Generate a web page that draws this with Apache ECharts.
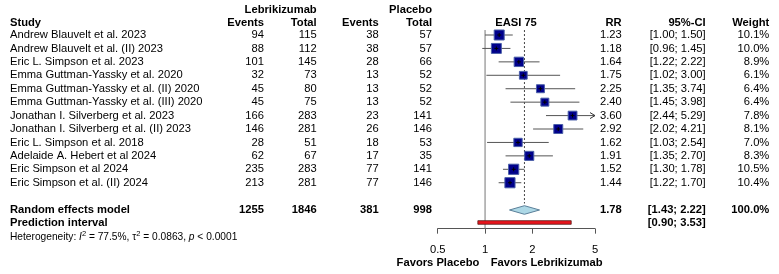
<!DOCTYPE html>
<html><head><meta charset="utf-8">
<script src="https://cdn.jsdelivr.net/npm/echarts@6/dist/echarts.min.js"></script>
<style>html,body{margin:0;padding:0;background:#fff}#c{width:779px;height:274px}</style>
</head><body><div id="c"></div>
<script>
// ---------- data ----------
const studies = [
  'Andrew Blauvelt et al. 2023',
  'Andrew Blauvelt et al. (II) 2023',
  'Eric L. Simpson et al. 2023',
  'Emma Guttman-Yassky et al. 2020',
  'Emma Guttman-Yassky et al. (II) 2020',
  'Emma Guttman-Yassky et al. (III) 2020',
  'Jonathan I. Silverberg et al. 2023',
  'Jonathan I. Silverberg et al. (II) 2023',
  'Eric L. Simpson et al. 2018',
  'Adelaide A. Hebert et al 2024',
  'Eric Simpson et al 2024',
  'Eric Simpson et al. (II) 2024'
];
const lebEvents = [94, 88, 101, 32, 45, 45, 166, 146, 28, 62, 235, 213];
const lebTotal  = [115, 112, 145, 73, 80, 75, 283, 281, 51, 67, 283, 281];
const plaEvents = [38, 38, 28, 13, 13, 13, 23, 26, 18, 17, 77, 77];
const plaTotal  = [57, 57, 66, 52, 52, 52, 141, 146, 53, 35, 141, 146];
const rr        = [1.23, 1.18, 1.64, 1.75, 2.25, 2.40, 3.60, 2.92, 1.62, 1.91, 1.52, 1.44];
const ciLow     = [1.00, 0.96, 1.22, 1.02, 1.35, 1.45, 2.44, 2.02, 1.03, 1.35, 1.30, 1.22];
const ciHigh    = [1.50, 1.45, 2.22, 3.00, 3.74, 3.98, 5.29, 4.21, 2.54, 2.70, 1.78, 1.70];
const weights   = [10.1, 10.0, 8.9, 6.1, 6.4, 6.4, 7.8, 8.1, 7.0, 8.3, 10.5, 10.4];
const pooledTotals = [1255, 1846, 381, 998];
const pooledRR = 1.78;
const pooledCI = [1.43, 2.22];
const pooledWeight = 100.0;
const predInterval = [0.90, 3.53];
const tickValues = [0.5, 1, 2, 5];
const heterogeneity = { I2: '77.5%', tau2: '0.0863', p: '< 0.0001' };

// ---------- layout ----------
const FONT = '"Liberation Sans", Arial, Helvetica, sans-serif';
const FS = 11.2;
const ROW0 = 35, ROWH = 13.43;
const X_MIN = 0.5, X_MAX = 5;
const COL = { study: 10, lebE: 264, lebT: 316.7, plaE: 378.7, plaT: 432, easi: 516, rr: 621.7, ci: 705.7, w: 769.3 };
const R = { head1: -1.88, head2: -0.89, pooled: 13.03, pred: 13.96, het: 15.02, favors: 16.98 };

const cells = [];
function cell(x, row, text, align, bold, extra) { cells.push(Object.assign({ x, row, text, align, bold }, extra || {})); }
cell(COL.lebT, R.head1, 'Lebrikizumab', 'right', true);
cell(COL.plaT, R.head1, 'Placebo', 'right', true);
cell(COL.study, R.head2, 'Study', 'left', true);
cell(COL.lebE, R.head2, 'Events', 'right', true);
cell(COL.lebT, R.head2, 'Total', 'right', true);
cell(COL.plaE, R.head2, 'Events', 'right', true);
cell(COL.plaT, R.head2, 'Total', 'right', true);
cell(COL.easi, R.head2, 'EASI 75', 'center', true);
cell(COL.rr, R.head2, 'RR', 'right', true);
cell(COL.ci, R.head2, '95%-CI', 'right', true);
cell(COL.w, R.head2, 'Weight', 'right', true);
studies.forEach((s, i) => {
  cell(COL.study, i, s, 'left', false);
  cell(COL.lebE, i, String(lebEvents[i]), 'right', false);
  cell(COL.lebT, i, String(lebTotal[i]), 'right', false);
  cell(COL.plaE, i, String(plaEvents[i]), 'right', false);
  cell(COL.plaT, i, String(plaTotal[i]), 'right', false);
  cell(COL.rr, i, rr[i].toFixed(2), 'right', false);
  cell(COL.ci, i, '[' + ciLow[i].toFixed(2) + '; ' + ciHigh[i].toFixed(2) + ']', 'right', false);
  cell(COL.w, i, weights[i].toFixed(1) + '%', 'right', false);
});
cell(COL.study, R.pooled, 'Random effects model', 'left', true);
cell(COL.lebE, R.pooled, String(pooledTotals[0]), 'right', true);
cell(COL.lebT, R.pooled, String(pooledTotals[1]), 'right', true);
cell(COL.plaE, R.pooled, String(pooledTotals[2]), 'right', true);
cell(COL.plaT, R.pooled, String(pooledTotals[3]), 'right', true);
cell(COL.rr, R.pooled, pooledRR.toFixed(2), 'right', true);
cell(COL.ci, R.pooled, '[' + pooledCI[0].toFixed(2) + '; ' + pooledCI[1].toFixed(2) + ']', 'right', true);
cell(COL.w, R.pooled, pooledWeight.toFixed(1) + '%', 'right', true);
cell(COL.study, R.pred, 'Prediction interval', 'left', true);
cell(COL.ci, R.pred, '[' + predInterval[0].toFixed(2) + '; ' + predInterval[1].toFixed(2) + ']', 'right', true);
cell(COL.study, R.het,
  'Heterogeneity: {i|I}{sup|2} = ' + heterogeneity.I2 + ', τ{sup|2} = ' + heterogeneity.tau2 + ', {i|p} ' + heterogeneity.p,
  'left', false, { size: 10.2, rich: true });
cell(479.3, R.favors, 'Favors Placebo', 'right', true);
cell(490.7, R.favors, 'Favors Lebrikizumab', 'left', true);

const chart = echarts.init(document.getElementById('c'), null, { renderer: 'canvas' });

const option = {
  animation: false,
  backgroundColor: '#fff',
  grid: [
    { left: 437.7, top: ROW0 - 2.5 * ROWH, width: 157.3, height: (14.42 + 2.5) * ROWH, containLabel: false },
    { left: 0, top: ROW0 - 2.5 * ROWH, width: 779, height: 20 * ROWH, containLabel: false }
  ],
  xAxis: [
    {
      gridIndex: 0, type: 'log', logBase: 10, min: X_MIN, max: X_MAX, position: 'bottom',
      axisLine: { show: true, onZero: false, lineStyle: { color: '#555', width: 1 } },
      axisTick: { show: true, length: 5, customValues: tickValues, lineStyle: { color: '#555' } },
      axisLabel: { show: true, customValues: tickValues, fontSize: FS, fontFamily: FONT, color: '#000', margin: 15.5,
        formatter: v => String(v) },
      splitLine: { show: false }, minorTick: { show: false }
    },
    { gridIndex: 1, type: 'value', min: 0, max: 779, show: false }
  ],
  yAxis: [
    { gridIndex: 0, type: 'value', inverse: true, min: -2.5, max: 14.42, show: false },
    { gridIndex: 1, type: 'value', inverse: true, min: -2.5, max: 17.5, show: false }
  ],
  series: [
    {
      // reference lines, diamond, prediction interval
      type: 'custom', xAxisIndex: 0, yAxisIndex: 0, z: 1, clip: false,
      data: [[pooledRR, 13.03]],
      renderItem: function (params, api) {
        const top = api.coord([1, -0.37])[1];
        const bot = api.coord([1, 14.42])[1];
        const x1 = api.coord([1, 0])[0];
        const xp = api.coord([pooledRR, 0])[0];
        const dBot = api.coord([1, 12.55])[1];
        const yc = api.coord([1, R.pooled])[1];
        const xl = api.coord([pooledCI[0], 0])[0];
        const xh = api.coord([pooledCI[1], 0])[0];
        const yp = api.coord([1, R.pred])[1];
        const pl = api.coord([predInterval[0], 0])[0];
        const ph = api.coord([predInterval[1], 0])[0];
        return {
          type: 'group', children: [
            { type: 'line', shape: { x1: x1, y1: top, x2: x1, y2: bot }, style: { stroke: '#777', lineWidth: 1 } },
            { type: 'line', shape: { x1: xp, y1: top, x2: xp, y2: dBot }, style: { stroke: '#444', lineWidth: 1, lineDash: [2, 2] } },
            { type: 'polygon', shape: { points: [[xl, yc], [xp, yc - 4.3], [xh, yc], [xp, yc + 4.3]] },
              style: { fill: '#add8e6', stroke: '#5a7f99', lineWidth: 1 } },
            { type: 'rect', shape: { x: pl, y: yp - 1.8, width: ph - pl, height: 3.6 },
              style: { fill: '#e8141b', stroke: '#5a1a1a', lineWidth: 0.8 } }
          ]
        };
      }
    },
    {
      // study estimates
      type: 'custom', xAxisIndex: 0, yAxisIndex: 0, z: 2, clip: false,
      data: rr.map((v, i) => [v, i]),
      renderItem: function (params, api) {
        const i = params.dataIndex;
        const y = api.coord([1, i])[1];
        const xl = api.coord([Math.max(ciLow[i], X_MIN), i])[0];
        const xh = api.coord([Math.min(ciHigh[i], X_MAX), i])[0];
        const xc = api.coord([rr[i], i])[0];
        const s = 3.15 * Math.sqrt(weights[i]);
        const children = [
          { type: 'line', shape: { x1: xl, y1: y, x2: xh, y2: y }, style: { stroke: '#555', lineWidth: 1 } },
          { type: 'rect', shape: { x: xc - s / 2, y: y - s / 2, width: s, height: s },
            style: { fill: '#00008b', stroke: '#4a5fa8', lineWidth: 1 } },
          { type: 'line', shape: { x1: xc - 2, y1: y, x2: xc + 2, y2: y }, style: { stroke: '#000', lineWidth: 1 } },
          { type: 'line', shape: { x1: xc, y1: y - 2, x2: xc, y2: y + 2 }, style: { stroke: '#000', lineWidth: 1 } }
        ];
        if (ciHigh[i] > X_MAX) {
          children.push({ type: 'polyline', shape: { points: [[xh - 5, y - 3], [xh, y], [xh - 5, y + 3]] },
            style: { stroke: '#333', lineWidth: 1, fill: null } });
        }
        return { type: 'group', children: children };
      }
    },
    {
      // text table
      type: 'custom', xAxisIndex: 1, yAxisIndex: 1, z: 3, clip: false,
      data: cells.map(c => [c.x, c.row]),
      renderItem: function (params, api) {
        const c = cells[params.dataIndex];
        const p = api.coord([c.x, c.row]);
        const size = c.size || FS;
        const style = {
          text: c.text, x: 0, y: 0,
          align: c.align, verticalAlign: 'middle',
          fontFamily: FONT, fontSize: size, fontWeight: c.bold ? 'bold' : 'normal', fill: '#000'
        };
        if (c.rich) {
          style.rich = {
            i: { fontStyle: 'italic', fontFamily: FONT, fontSize: size, fill: '#000' },
            sup: { fontFamily: FONT, fontSize: 7.5, verticalAlign: 'top', fill: '#000', padding: [0, 0, 6, 0] }
          };
        }
        return { type: 'text', x: p[0], y: p[1], style: style };
      }
    }
  ]
};
chart.setOption(option);
</script>
</body></html>
